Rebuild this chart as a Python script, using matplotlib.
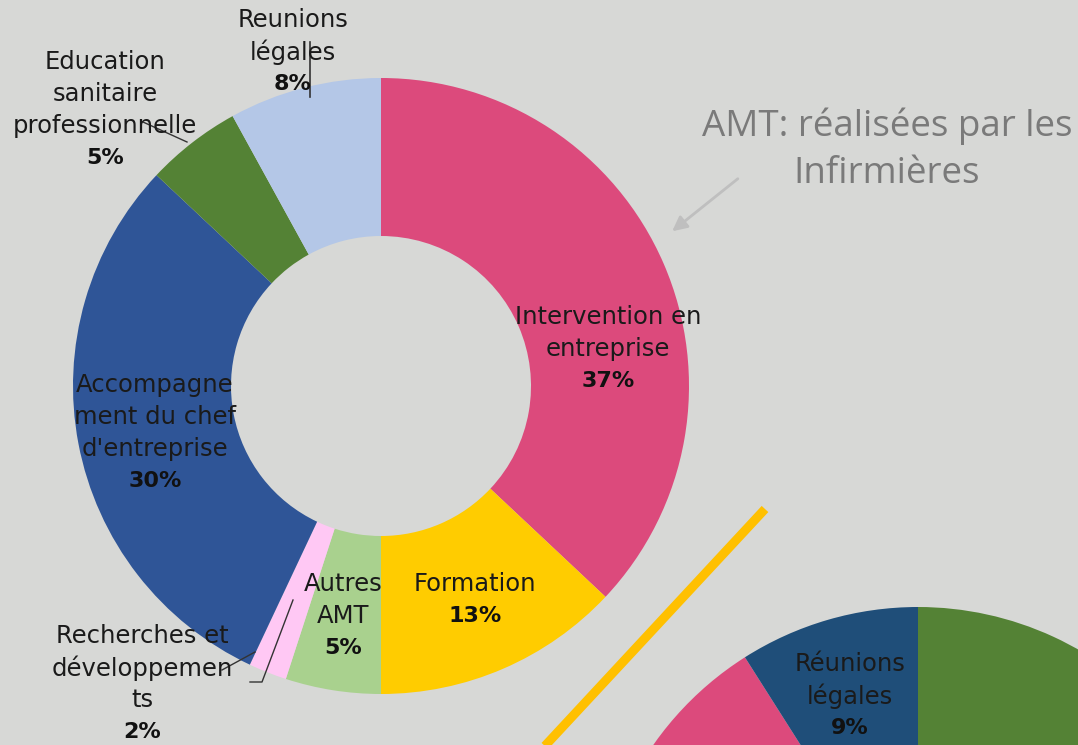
import matplotlib
matplotlib.use("Agg")
import matplotlib.pyplot as plt

# ---- data ----
categories = ["Intervention en\nentreprise", "Formation", "Autres\nAMT",
              "Recherches et\ndéveloppemen\nts", "Accompagne\nment du chef\nd'entreprise",
              "Education\nsanitaire\nprofessionnelle", "Reunions\nlégales"]
values = [37, 13, 5, 2, 30, 5, 8]
pct_labels = ["37%", "13%", "5%", "2%", "30%", "5%", "8%"]
colors = ["#DC4A7C", "#FFCC00", "#A9D18E", "#FFC8F4", "#2F5597", "#548235", "#B4C7E7"]

second_categories = ["", "", "Réunions\nlégales"]
second_values = [55, 36, 9]
second_pct = ["", "", "9%"]
second_colors = ["#548235", "#DC4A7C", "#1F4E79"]

title_text = "AMT: réalisées par les\nInfirmières"

W, H = 1078, 745
fig = plt.figure(figsize=(W / 100, H / 100), dpi=100)
fig.patch.set_facecolor("#D7D8D6")
ax = fig.add_axes([0, 0, 1, 1])
ax.set_xlim(0, W)
ax.set_ylim(0, H)
ax.set_aspect("equal")
ax.axis("off")

def Y(yp):
    return H - yp

# main donut
ax.pie(values, colors=colors, startangle=90, counterclock=False,
       center=(381, Y(386)), radius=308,
       wedgeprops=dict(width=308 - 150, linewidth=0))
# second pie (partially visible)
ax.pie(second_values, colors=second_colors, startangle=90, counterclock=False,
       center=(918, Y(930)), radius=323, wedgeprops=dict(linewidth=0))
ax.set_xlim(0, W)
ax.set_ylim(0, H)

FONT = "DejaVu Sans"
FS = 17.5
FSP = 16
STEP = 32

def label(x, y_first, name, pct):
    lines = name.split("\n")
    for i, ln in enumerate(lines):
        ax.text(x, Y(y_first + i * STEP), ln, ha="center", va="center",
                fontsize=FS, family=FONT, color="#1A1A1A")
    ax.text(x, Y(y_first + len(lines) * STEP), pct, ha="center", va="center",
            fontsize=FSP, family=FONT, fontweight="bold", color="#111111")

layout = [(608, 317), (475, 584), (343, 584), (142, 636), (155, 385), (105, 62), (293, 20)]
for (x, y), name, pct in zip(layout, categories, pct_labels):
    label(x, y, name, pct)
label(850, 664, second_categories[2], second_pct[2])

# leader lines
lc = "#333333"
ax.plot([310, 310], [Y(42), Y(97)], color=lc, lw=1.2)
ax.plot([143, 187], [Y(122), Y(142)], color=lc, lw=1.0)
ax.plot([222, 255], [Y(670), Y(652)], color=lc, lw=1.0)
ax.plot([250, 262, 293], [Y(682), Y(682), Y(600)], color=lc, lw=1.0)

# yellow diagonal
ax.plot([765, 543], [Y(509), Y(748)], color="#FFC000", lw=6.5, solid_capstyle="butt")

# title + arrow
ax.text(887, Y(150), title_text, ha="center", va="center", fontsize=26.5,
        family="Open Sans", color="#7A7A7A", linespacing=1.4)
ax.annotate("", xy=(670, Y(233)), xytext=(740, Y(177)),
            arrowprops=dict(arrowstyle="-|>", color="#BFBFBF", lw=2, mutation_scale=22))

fig.savefig("out.png", dpi=100, facecolor=fig.get_facecolor())
